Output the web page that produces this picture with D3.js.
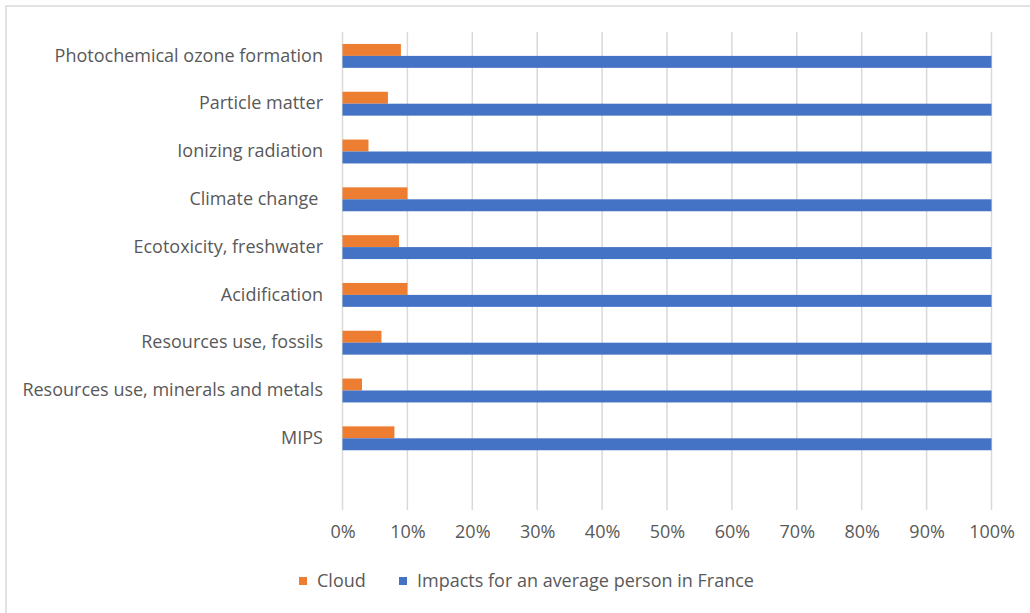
<!DOCTYPE html>
<html>
<head>
<meta charset="utf-8">
<script src="https://cdn.jsdelivr.net/npm/d3@7"></script>
<style>
  html, body { margin: 0; padding: 0; background: #fff; }
  svg { display: block; }
  text { font-family: "Open Sans", "Lato", sans-serif; fill: #595959; white-space: pre; }
</style>
</head>
<body>
<svg id="chart" width="1030" height="613"></svg>
<script>
// Impact categories, top to bottom
const categories = [
  "Photochemical ozone formation",
  "Particle matter",
  "Ionizing radiation",
  "Climate change ",
  "Ecotoxicity, freshwater",
  "Acidification",
  "Resources use, fossils",
  "Resources use, minerals and metals",
  "MIPS"
];

// Share of the average French person's impact, in percent
const cloudValues = [9, 7, 4, 10, 8.7, 10, 6, 3, 8];
const personValues = [100, 100, 100, 100, 100, 100, 100, 100, 100];

const seriesNames = ["Cloud", "Impacts for an average person in France"];
const seriesColors = ["#ED7D31", "#4472C4"];

const xTicks = [0, 10, 20, 30, 40, 50, 60, 70, 80, 90, 100];

const FONT = "'Open Sans', Lato, sans-serif";
const FONT_SIZE = "18px";

const svg = d3.select("#chart");

// Chart frame
svg.append("rect")
  .attr("x", 6).attr("y", 6)
  .attr("width", 1030).attr("height", 613)
  .attr("fill", "none")
  .attr("stroke", "#d9d9d9")
  .attr("stroke-width", 1.5);

const plotTop = 32, band = 47.8;
const plotBottom = plotTop + band * (categories.length + 1);

const x = d3.scaleLinear().domain([0, 100]).range([342.5, 991.5]);
const y = d3.scaleBand()
  .domain(categories)
  .range([plotTop, plotTop + band * categories.length])
  .paddingInner(0.5).paddingOuter(0.25);

const sub = d3.scaleBand().domain([0, 1]).range([0, y.bandwidth()]);

// Vertical gridlines
svg.append("g")
  .selectAll("line")
  .data(xTicks)
  .join("line")
  .attr("x1", d => x(d)).attr("x2", d => x(d))
  .attr("y1", plotTop).attr("y2", plotBottom)
  .attr("stroke", "#d9d9d9")
  .attr("stroke-width", 1.5);

// Bars
const rows = categories.map((c, i) => ({ c, vals: [cloudValues[i], personValues[i]] }));
const g = svg.append("g");
rows.forEach(r => {
  g.selectAll(null)
    .data(r.vals)
    .join("rect")
    .attr("x", x(0))
    .attr("y", (d, j) => y(r.c) + sub(j))
    .attr("width", d => x(d) - x(0))
    .attr("height", sub.bandwidth())
    .attr("fill", (d, j) => seriesColors[j]);
});

// Category labels
const yAxis = d3.axisLeft(y).tickSize(0).tickPadding(0);
const yg = svg.append("g").attr("transform", "translate(323,0)").call(yAxis);
yg.select(".domain").remove();
yg.selectAll("text")
  .style("font-size", FONT_SIZE)
  .style("font-family", FONT)
  .style("white-space", "pre")
  .attr("fill", "#595959")
  .attr("x", 0);

// Percentage axis labels
const xAxis = d3.axisBottom(x).tickValues(xTicks).tickFormat(d => d + "%").tickSize(0).tickPadding(0);
const xg = svg.append("g").attr("transform", "translate(0,525)").call(xAxis);
xg.select(".domain").remove();
xg.selectAll("text")
  .style("font-size", FONT_SIZE)
  .style("font-family", FONT)
  .attr("fill", "#595959");

// Legend
const legendX = [299, 399];
const legend = svg.append("g");
seriesNames.forEach((name, i) => {
  legend.append("rect")
    .attr("x", legendX[i]).attr("y", 577)
    .attr("width", 8).attr("height", 8)
    .attr("fill", seriesColors[i]);
  legend.append("text")
    .attr("x", legendX[i] + 18).attr("y", 581)
    .attr("dy", "0.35em")
    .style("font-size", FONT_SIZE)
    .style("font-family", FONT)
    .text(name);
});
</script>
</body>
</html>
